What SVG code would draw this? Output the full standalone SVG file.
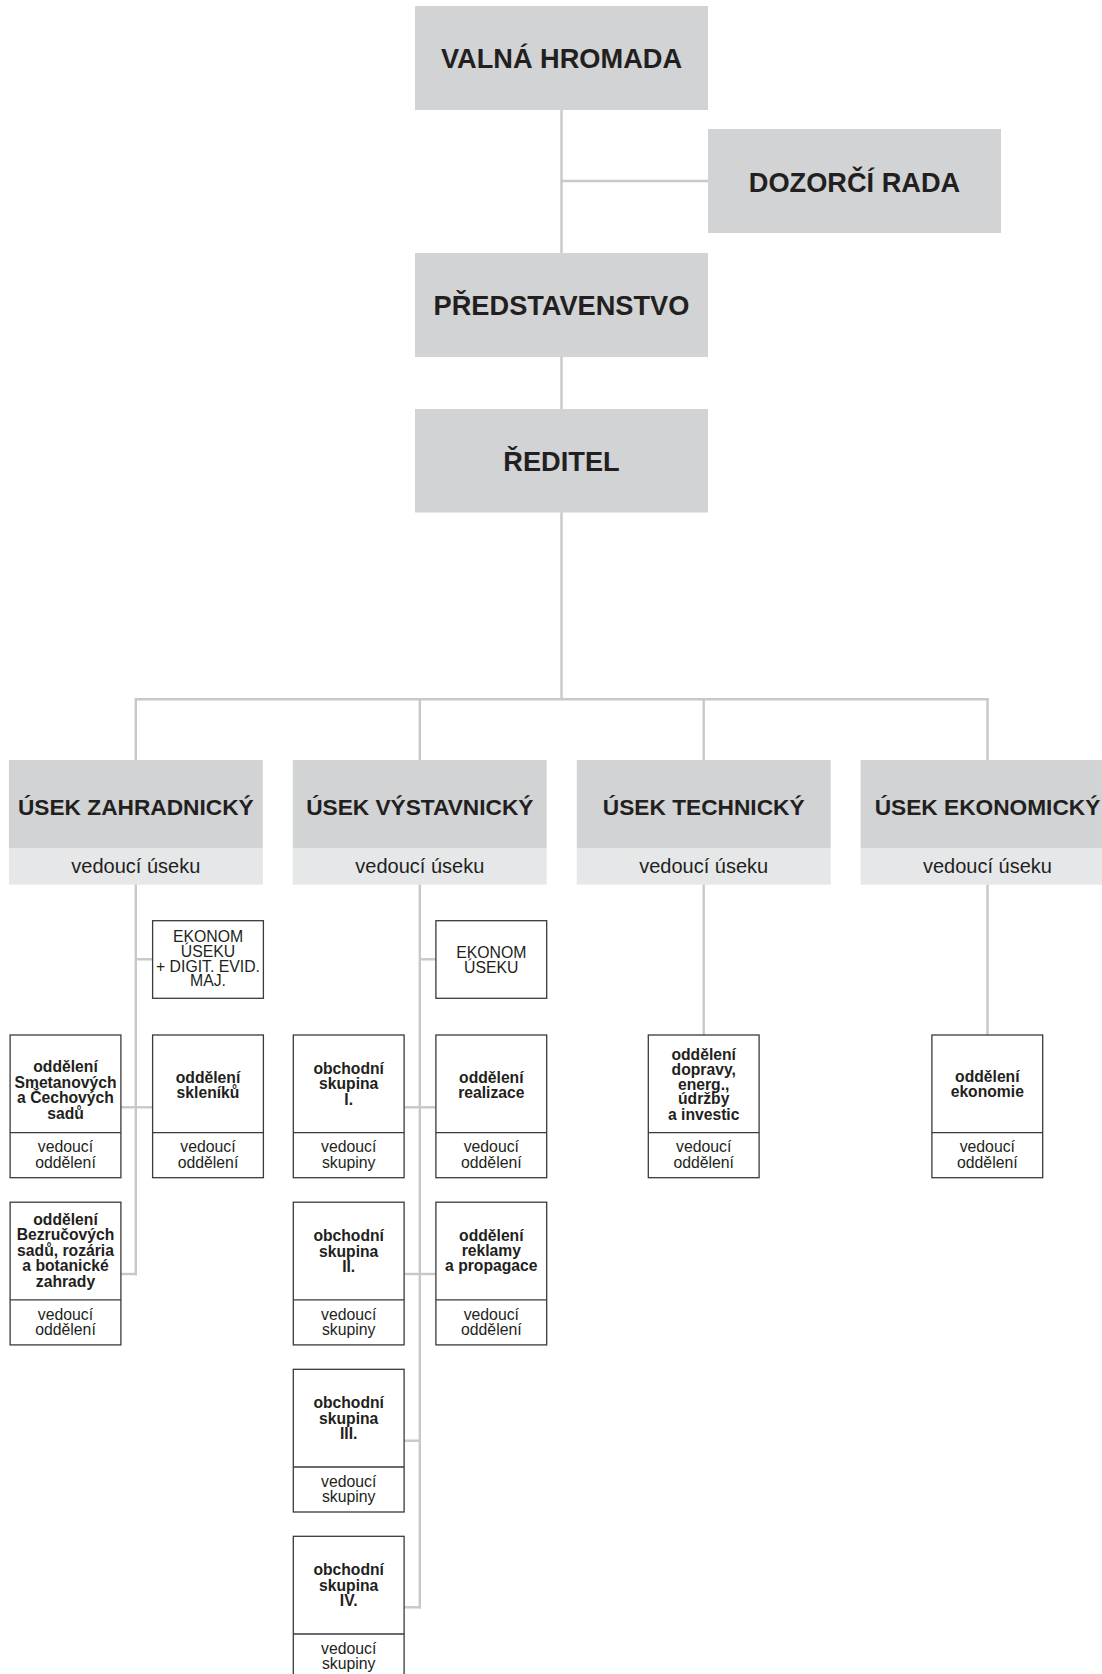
<svg xmlns="http://www.w3.org/2000/svg" width="1102" height="1674" viewBox="0 0 1102 1674">
<style>
.big{fill:#d1d3d4}
.light{fill:#e6e7e8}
.ttl{font-family:"Liberation Sans",Arial,sans-serif;font-weight:bold;font-size:27.2px;fill:#231f20;text-anchor:middle}
.sec{font-family:"Liberation Sans",Arial,sans-serif;font-weight:bold;font-size:22.7px;fill:#231f20;text-anchor:middle}
.lead{font-family:"Liberation Sans",Arial,sans-serif;font-size:20px;fill:#231f20;text-anchor:middle}
.sb{fill:#ffffff;stroke:#3a3a3c;stroke-width:1.3}
.dv{stroke:#3a3a3c;stroke-width:1.3}
.bt{font-family:"Liberation Sans",Arial,sans-serif;font-weight:bold;font-size:15.7px;fill:#231f20;text-anchor:middle}
.rt{font-family:"Liberation Sans",Arial,sans-serif;font-size:15.8px;fill:#231f20;text-anchor:middle}
.conn{stroke:#c7c8ca;stroke-width:2.4;fill:none}
</style>

<g id="connectors" class="conn">
<line x1="561.5" y1="109" x2="561.5" y2="254"/>
<line x1="561.5" y1="181" x2="709" y2="181"/>
<line x1="561.5" y1="356" x2="561.5" y2="410"/>
<line x1="561.5" y1="512" x2="561.5" y2="699.3"/>
<line x1="134.6" y1="699.3" x2="988.7" y2="699.3"/>
<line x1="135.8" y1="699.3" x2="135.8" y2="761"/>
<line x1="419.8" y1="699.3" x2="419.8" y2="761"/>
<line x1="703.7" y1="699.3" x2="703.7" y2="761"/>
<line x1="987.5" y1="699.3" x2="987.5" y2="761"/>
<line x1="135.8" y1="884" x2="135.8" y2="1275.2"/>
<line x1="135.8" y1="959.3" x2="152.6" y2="959.3"/>
<line x1="121" y1="1107.3" x2="152.6" y2="1107.3"/>
<line x1="121" y1="1274" x2="137" y2="1274"/>
<line x1="419.8" y1="884" x2="419.8" y2="1608.5"/>
<line x1="419.8" y1="959.3" x2="436" y2="959.3"/>
<line x1="404" y1="1107.3" x2="436" y2="1107.3"/>
<line x1="404" y1="1274" x2="436" y2="1274"/>
<line x1="404" y1="1440.7" x2="421" y2="1440.7"/>
<line x1="404" y1="1607.3" x2="421" y2="1607.3"/>
<line x1="703.7" y1="884" x2="703.7" y2="1035"/>
<line x1="987.5" y1="884" x2="987.5" y2="1035"/>
</g>

<g id="n-valna">
<rect class="big" x="415" y="6" width="293" height="104"/>
<text class="ttl" x="561.5" y="68.3">VALNÁ HROMADA</text>
</g>
<g id="n-dozorci">
<rect class="big" x="708" y="129" width="293" height="104"/>
<text class="ttl" x="854.5" y="191.7">DOZORČÍ RADA</text>
</g>
<g id="n-predstavenstvo">
<rect class="big" x="415" y="253" width="293" height="104"/>
<text class="ttl" x="561.5" y="315">PŘEDSTAVENSTVO</text>
</g>
<g id="n-reditel">
<rect class="big" x="415" y="409" width="293" height="103.5"/>
<text class="ttl" x="561.5" y="471">ŘEDITEL</text>
</g>

<g id="n-usek-z">
<rect class="big" x="8.9" y="760" width="253.9" height="88"/>
<rect class="light" x="8.9" y="848" width="253.9" height="36.7"/>
<text class="sec" x="135.8" y="815">ÚSEK ZAHRADNICKÝ</text>
<text class="lead" x="135.8" y="872.7">vedoucí úseku</text>
</g>
<g id="n-usek-v">
<rect class="big" x="292.8" y="760" width="253.9" height="88"/>
<rect class="light" x="292.8" y="848" width="253.9" height="36.7"/>
<text class="sec" x="419.8" y="815">ÚSEK VÝSTAVNICKÝ</text>
<text class="lead" x="419.8" y="872.7">vedoucí úseku</text>
</g>
<g id="n-usek-t">
<rect class="big" x="576.8" y="760" width="253.9" height="88"/>
<rect class="light" x="576.8" y="848" width="253.9" height="36.7"/>
<text class="sec" x="703.7" y="815">ÚSEK TECHNICKÝ</text>
<text class="lead" x="703.7" y="872.7">vedoucí úseku</text>
</g>
<g id="n-usek-e">
<rect class="big" x="860.6" y="760" width="253.9" height="88"/>
<rect class="light" x="860.6" y="848" width="253.9" height="36.7"/>
<text class="sec" x="987.5" y="815">ÚSEK EKONOMICKÝ</text>
<text class="lead" x="987.5" y="872.7">vedoucí úseku</text>
</g>

<g id="n-ekonom-z">
<rect class="sb" x="152.6" y="920.7" width="110.8" height="77.6"/>
<text class="rt" x="208" y="941.5">EKONOM</text>
<text class="rt" x="208" y="956.5">ÚSEKU</text>
<text class="rt" x="208" y="971.5">+ DIGIT. EVID.</text>
<text class="rt" x="208" y="986">MAJ.</text>
</g>
<g id="n-ekonom-v">
<rect class="sb" x="435.9" y="920.7" width="110.8" height="77.6"/>
<text class="rt" x="491.3" y="957.8">EKONOM</text>
<text class="rt" x="491.3" y="972.8">ÚSEKU</text>
</g>

<g id="n-smetanovych">
<rect class="sb" x="10.1" y="1035" width="110.8" height="142.7"/>
<line class="dv" x1="10.1" y1="1132.7" x2="120.9" y2="1132.7"/>
<text class="bt" x="65.5" y="1071.8">oddělení</text>
<text class="bt" x="65.5" y="1087.6">Smetanových</text>
<text class="bt" x="65.5" y="1103.3">a Čechových</text>
<text class="bt" x="65.5" y="1119.1">sadů</text>
<text class="rt" x="65.5" y="1152.3">vedoucí</text>
<text class="rt" x="65.5" y="1168">oddělení</text>
</g>
<g id="n-skleniku">
<rect class="sb" x="152.6" y="1035" width="110.8" height="142.7"/>
<line class="dv" x1="152.6" y1="1132.7" x2="263.4" y2="1132.7"/>
<text class="bt" x="208" y="1083">oddělení</text>
<text class="bt" x="208" y="1098">skleníků</text>
<text class="rt" x="208" y="1152.3">vedoucí</text>
<text class="rt" x="208" y="1168">oddělení</text>
</g>
<g id="n-bezrucovych">
<rect class="sb" x="10.1" y="1202.2" width="110.8" height="142.7"/>
<line class="dv" x1="10.1" y1="1299.9" x2="120.9" y2="1299.9"/>
<text class="bt" x="65.5" y="1224.5">oddělení</text>
<text class="bt" x="65.5" y="1240.3">Bezručových</text>
<text class="bt" x="65.5" y="1255.8">sadů, rozária</text>
<text class="bt" x="65.5" y="1271.3">a botanické</text>
<text class="bt" x="65.5" y="1287.1">zahrady</text>
<text class="rt" x="65.5" y="1319.5">vedoucí</text>
<text class="rt" x="65.5" y="1335.2">oddělení</text>
</g>

<g id="n-obch1">
<rect class="sb" x="293.3" y="1035" width="110.8" height="142.7"/>
<line class="dv" x1="293.3" y1="1132.7" x2="404.1" y2="1132.7"/>
<text class="bt" x="348.7" y="1073.8">obchodní</text>
<text class="bt" x="348.7" y="1089.3">skupina</text>
<text class="bt" x="348.7" y="1104.6">I.</text>
<text class="rt" x="348.7" y="1152.3">vedoucí</text>
<text class="rt" x="348.7" y="1168">skupiny</text>
</g>
<g id="n-realizace">
<rect class="sb" x="435.9" y="1035" width="110.8" height="142.7"/>
<line class="dv" x1="435.9" y1="1132.7" x2="546.7" y2="1132.7"/>
<text class="bt" x="491.3" y="1083">oddělení</text>
<text class="bt" x="491.3" y="1097.8">realizace</text>
<text class="rt" x="491.3" y="1152.3">vedoucí</text>
<text class="rt" x="491.3" y="1168">oddělení</text>
</g>
<g id="n-obch2">
<rect class="sb" x="293.3" y="1202.2" width="110.8" height="142.7"/>
<line class="dv" x1="293.3" y1="1299.9" x2="404.1" y2="1299.9"/>
<text class="bt" x="348.7" y="1241">obchodní</text>
<text class="bt" x="348.7" y="1256.5">skupina</text>
<text class="bt" x="348.7" y="1271.8">II.</text>
<text class="rt" x="348.7" y="1319.5">vedoucí</text>
<text class="rt" x="348.7" y="1335.2">skupiny</text>
</g>
<g id="n-reklamy">
<rect class="sb" x="435.9" y="1202.2" width="110.8" height="142.7"/>
<line class="dv" x1="435.9" y1="1299.9" x2="546.7" y2="1299.9"/>
<text class="bt" x="491.3" y="1241">oddělení</text>
<text class="bt" x="491.3" y="1256">reklamy</text>
<text class="bt" x="491.3" y="1271">a propagace</text>
<text class="rt" x="491.3" y="1319.5">vedoucí</text>
<text class="rt" x="491.3" y="1335.2">oddělení</text>
</g>
<g id="n-obch3">
<rect class="sb" x="293.3" y="1369.3" width="110.8" height="142.7"/>
<line class="dv" x1="293.3" y1="1467" x2="404.1" y2="1467"/>
<text class="bt" x="348.7" y="1408">obchodní</text>
<text class="bt" x="348.7" y="1423.5">skupina</text>
<text class="bt" x="348.7" y="1438.9">III.</text>
<text class="rt" x="348.7" y="1486.6">vedoucí</text>
<text class="rt" x="348.7" y="1502.3">skupiny</text>
</g>
<g id="n-obch4">
<rect class="sb" x="293.3" y="1536.3" width="110.8" height="142.7"/>
<line class="dv" x1="293.3" y1="1634" x2="404.1" y2="1634"/>
<text class="bt" x="348.7" y="1575">obchodní</text>
<text class="bt" x="348.7" y="1590.5">skupina</text>
<text class="bt" x="348.7" y="1605.9">IV.</text>
<text class="rt" x="348.7" y="1653.6">vedoucí</text>
<text class="rt" x="348.7" y="1669.3">skupiny</text>
</g>

<g id="n-dopravy">
<rect class="sb" x="648.3" y="1035" width="110.8" height="142.7"/>
<line class="dv" x1="648.3" y1="1132.7" x2="759.1" y2="1132.7"/>
<text class="bt" x="703.7" y="1059.6">oddělení</text>
<text class="bt" x="703.7" y="1074.6">dopravy,</text>
<text class="bt" x="703.7" y="1089.6">energ.,</text>
<text class="bt" x="703.7" y="1104.4">údržby</text>
<text class="bt" x="703.7" y="1119.7">a investic</text>
<text class="rt" x="703.7" y="1152.3">vedoucí</text>
<text class="rt" x="703.7" y="1168">oddělení</text>
</g>
<g id="n-ekonomie">
<rect class="sb" x="931.9" y="1035" width="110.8" height="142.7"/>
<line class="dv" x1="931.9" y1="1132.7" x2="1042.7" y2="1132.7"/>
<text class="bt" x="987.3" y="1082.2">oddělení</text>
<text class="bt" x="987.3" y="1097.2">ekonomie</text>
<text class="rt" x="987.3" y="1152.3">vedoucí</text>
<text class="rt" x="987.3" y="1168">oddělení</text>
</g>
</svg>
